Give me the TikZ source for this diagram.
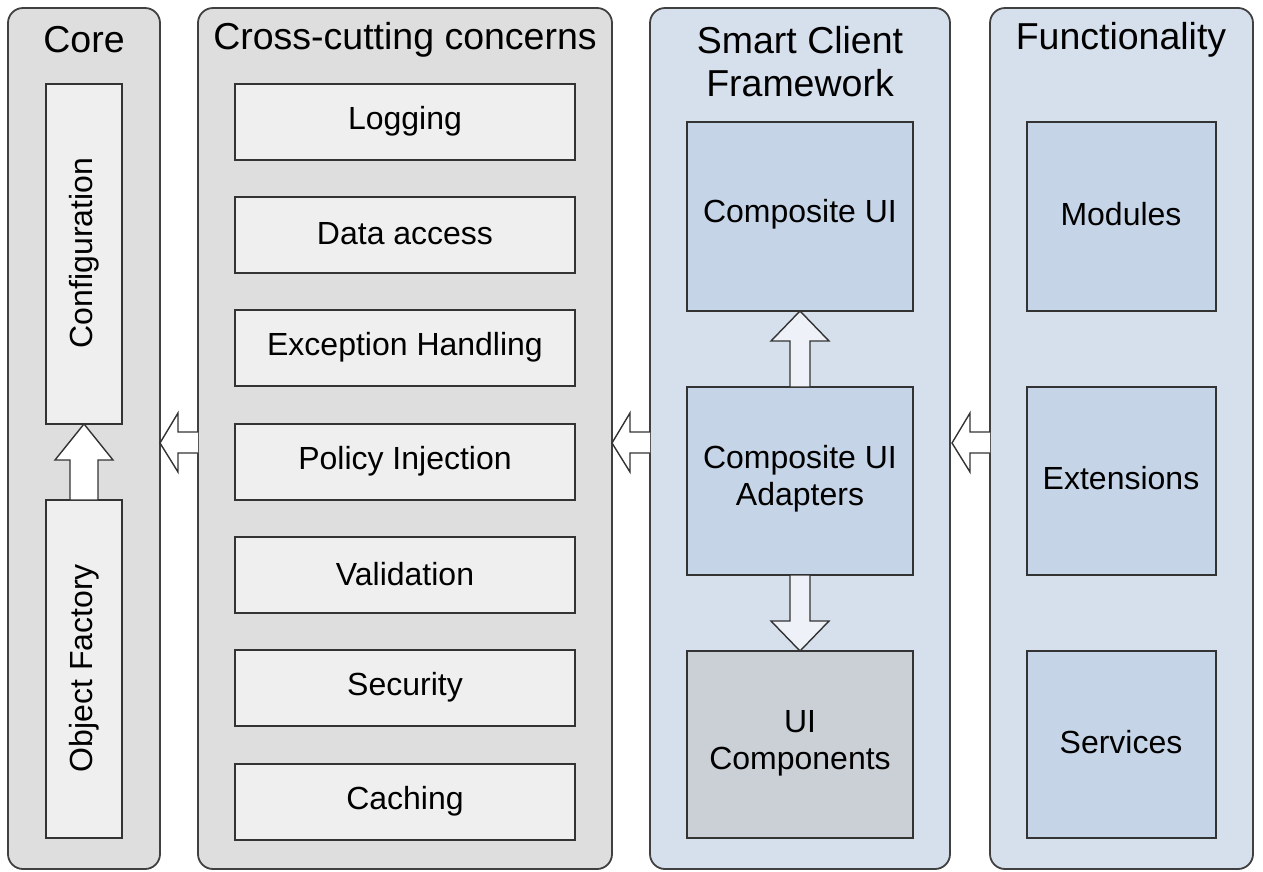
\documentclass[tikz,border=0pt]{standalone}
\usepackage{fontspec}
\setmainfont{Liberation Sans}
\begin{document}
\begin{tikzpicture}[x=1pt,y=-1pt,
  container/.style={draw=black!75,line width=1.8pt,rounded corners=15pt},
  inner/.style={draw=black!80,line width=1.6pt},
  title/.style={font=\fontsize{37.5}{43}\selectfont,align=center,text=black},
  lbl/.style={font=\fontsize{32}{37}\selectfont,align=center,text=black},
  harrow/.style={draw=black!80,line width=1.4pt,fill=white,line join=miter},
]
\definecolor{gray1}{HTML}{DEDEDE}
\definecolor{gray2}{HTML}{EFEFEF}
\definecolor{blue1}{HTML}{D6E0EC}
\definecolor{blue2}{HTML}{C5D4E7}
\definecolor{uigray}{HTML}{CBD0D7}
\definecolor{arrfill}{HTML}{EEF2F8}
\useasboundingbox (0,0) rectangle (1263,871);

% containers
\draw[container,fill=gray1] (8,8) rectangle (160,869);
\draw[container,fill=gray1] (198,8) rectangle (612,869);
\draw[container,fill=blue1] (650,8) rectangle (950,869);
\draw[container,fill=blue1] (990,8) rectangle (1253,869);

\node[title] (tcore) at (84,40) {Core};
\node[title] (tcross) at (405,40) {Cross-cutting concerns};
\node[title] (tsmart) at (800,62) {Smart Client\\Framework};
\node[title] (tfunc) at (1121,40) {Functionality};

% Core
\draw[inner,fill=gray2] (46,84) rectangle (122,424);
\draw[inner,fill=gray2] (46,500) rectangle (122,838);
\node[lbl,rotate=90] (config) at (84,253) {Configuration};
\node[lbl,rotate=90] (objfac) at (84,668) {Object Factory};
\draw[harrow] (70,500) -- (70,460) -- (55,460) -- (84,424) -- (113,460) -- (98,460) -- (98,500) -- cycle;

% Cross-cutting
\foreach \y/\t/\n in {84/Logging/log,197/Data access/data,310/Exception Handling/exc,424/Policy Injection/pol,537/Validation/val,650/Security/sec,764/Caching/cach}{
  \draw[inner,fill=gray2] (235,\y) rectangle (575,\y+76);
  \node[lbl] (\n) at (405,\y+37) {\t};
}

% Smart client
\draw[inner,fill=blue2] (687,122) rectangle (913,311);
\node[lbl] (cui) at (800,214) {Composite UI};
\draw[inner,fill=blue2] (687,387) rectangle (913,575);
\node[lbl] (cuia) at (800,479) {Composite UI\\Adapters};
\draw[inner,fill=uigray] (687,651) rectangle (913,838);
\node[lbl] (uic) at (800,743) {UI\\Components};
\draw[harrow,fill=arrfill] (790,387) -- (790,341) -- (771,341) -- (800,311) -- (829,341) -- (810,341) -- (810,387) -- cycle;
\draw[harrow,fill=arrfill] (790,575) -- (790,621) -- (771,621) -- (800,651) -- (829,621) -- (810,621) -- (810,575) -- cycle;

% Functionality
\draw[inner,fill=blue2] (1027,122) rectangle (1216,311);
\node[lbl] (mod) at (1121,214) {Modules};
\draw[inner,fill=blue2] (1027,387) rectangle (1216,575);
\node[lbl] (ext) at (1121,478) {Extensions};
\draw[inner,fill=blue2] (1027,651) rectangle (1216,838);
\node[lbl] (srv) at (1121,742) {Services};

% arrows between containers
\foreach \a/\b in {198/160,650/612,990/952}{
  \draw[harrow] (\a,432) -- (\b+18,432) -- (\b+18,413) -- (\b,443) -- (\b+18,472) -- (\b+18,453) -- (\a,453);
}
\end{tikzpicture}
\end{document}
